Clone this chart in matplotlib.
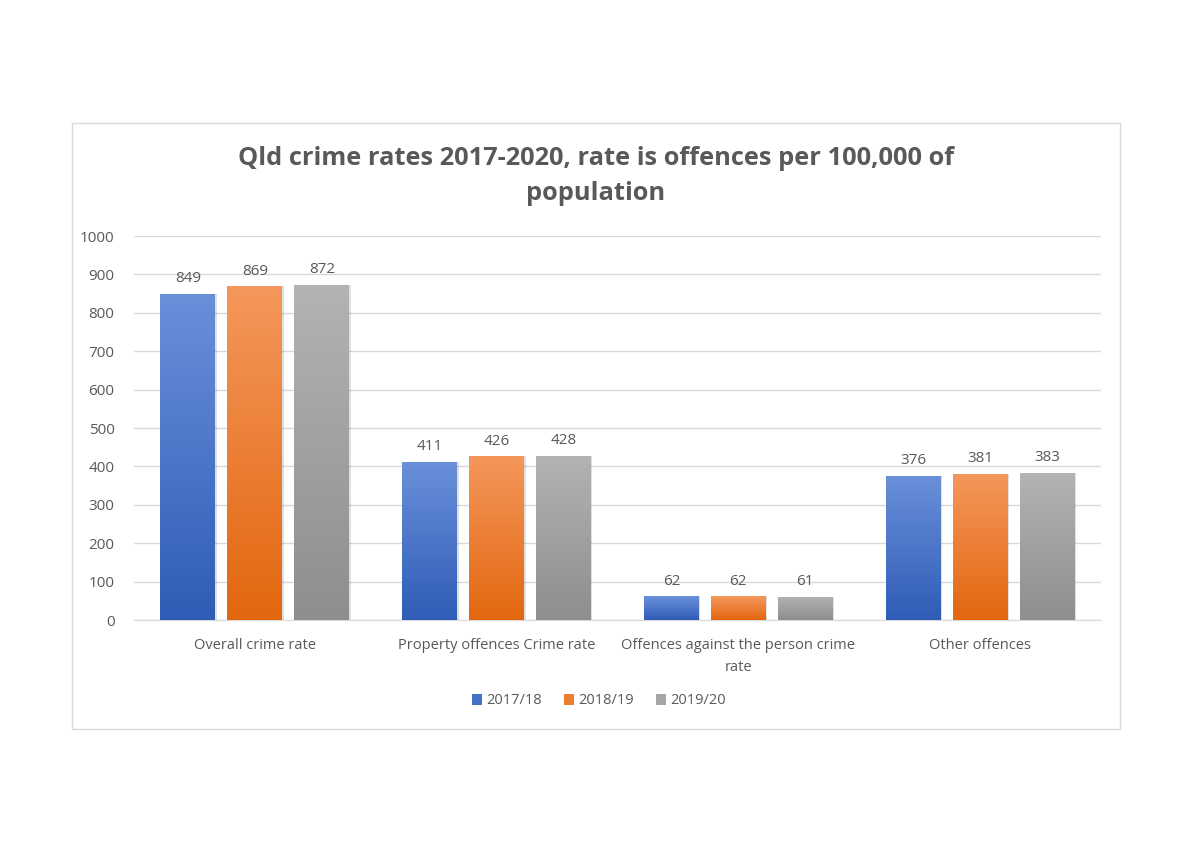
import matplotlib.pyplot as plt
import matplotlib.patches as mpatches
import matplotlib.colors as mcolors
import numpy as np

categories = ["Overall crime rate", "Property offences Crime rate",
              "Offences against the person crime\nrate", "Other offences"]
series = ["2017/18", "2018/19", "2019/20"]
v2017 = [849, 411, 62, 376]
v2018 = [869, 426, 62, 381]
v2019 = [872, 428, 61, 383]
values = [v2017, v2018, v2019]

tops = ["#6a90da", "#f5975c", "#b3b3b3"]
bottoms = ["#2f5cb6", "#e2670f", "#8e8e8e"]
mids = ["#4472c4", "#ed7d31", "#a5a5a5"]
txt = "#595959"

plt.rcParams['font.family'] = ['Open Sans', 'DejaVu Sans']

fig = plt.figure(figsize=(11.93, 8.52), dpi=100)
fig.patches.append(mpatches.Rectangle((72/1193, (852-729)/852), 1048/1193, 606/852,
                                      transform=fig.transFigure, fill=False,
                                      edgecolor="#d9d9d9", linewidth=1))
ax = fig.add_axes([134/1193, (852-620)/852, 967/1193, 384/852])

x = np.arange(len(categories))
w = 0.227
step = 0.277
for i, vals in enumerate(values):
    cmap = mcolors.LinearSegmentedColormap.from_list("g", [bottoms[i], tops[i]])
    bars = ax.bar(x + (i - 1) * step, vals, w, color=mids[i], zorder=3)
    for b, v in zip(bars, vals):
        b.set_facecolor("none")
        b.set_edgecolor("none")
        bx, bw = b.get_x(), b.get_width()
        # faint shadow on the right
        ax.add_patch(mpatches.Rectangle((bx + 0.006, 0), bw, v, color="#000000",
                                        alpha=0.12, zorder=2, linewidth=0))
        grad = np.linspace(0, 1, 256).reshape(-1, 1)
        im = ax.imshow(grad, cmap=cmap, origin="lower", aspect="auto",
                       extent=(bx, bx + bw, 0, v), zorder=3)
        im.set_clip_path(b)
        ax.text(bx + bw / 2, v + 20, str(v), ha="center", va="bottom",
                fontsize=11, color=txt)

ax.set_xlim(-0.5, 3.5)
ax.set_ylim(0, 1000)
ax.set_yticks(range(0, 1001, 100))
ax.set_xticks(x)
ax.set_xticklabels(categories, fontsize=10.5, color=txt, linespacing=1.6)
ax.tick_params(axis="y", labelsize=11, colors=txt, length=0, pad=14)
ax.tick_params(axis="x", length=0, pad=13)
ax.grid(axis="y", color="#d9d9d9", linewidth=1, zorder=0)
for s in ["top", "right", "left"]:
    ax.spines[s].set_visible(False)
ax.spines["bottom"].set_color("#d9d9d9")
ax.set_axisbelow(True)

fig.text(596/1193, 1 - 176/852, "Qld crime rates 2017-2020, rate is offences per 100,000 of\npopulation",
         ha="center", va="center", fontsize=18.3, fontweight="bold", color=txt, linespacing=1.55)

handles = [mpatches.Patch(facecolor=mids[i], label=series[i]) for i in range(3)]
fig.legend(handles=handles, loc="center", bbox_to_anchor=(599/1193, 1 - 701/852), ncol=3,
           frameon=False, fontsize=10.5, handlelength=0.7, handleheight=0.7,
           handletextpad=0.3, columnspacing=1.5, labelcolor=txt)

fig.savefig("out.png", dpi=100, facecolor="white")
